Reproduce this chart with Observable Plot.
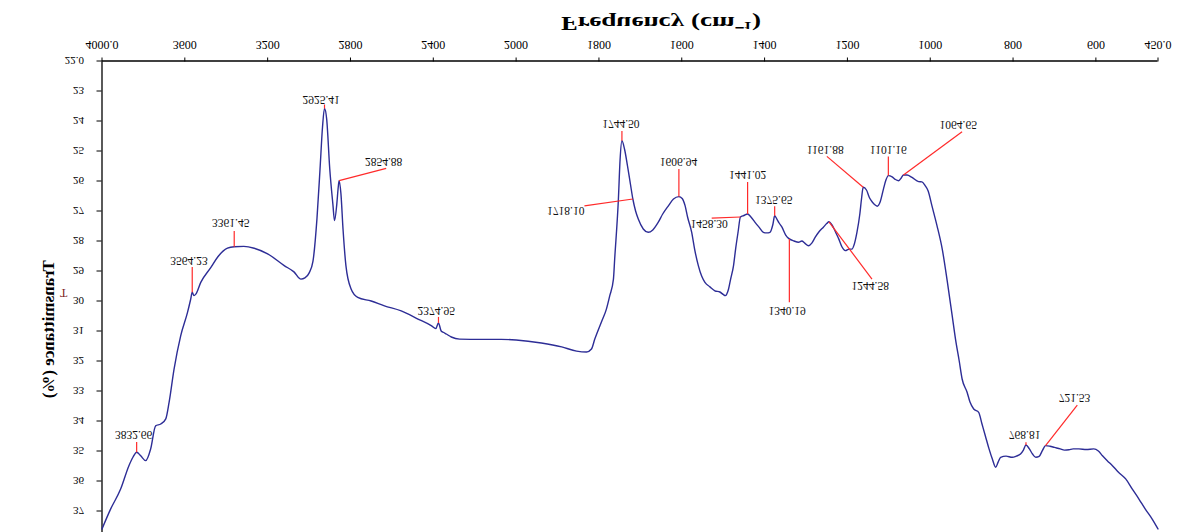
<!DOCTYPE html>
<html>
<head>
<meta charset="utf-8">
<script src="https://cdn.jsdelivr.net/npm/d3@7"></script>
<script src="https://cdn.jsdelivr.net/npm/@observablehq/plot@0.6"></script>
<style>
  html, body { margin: 0; padding: 0; background: #fff; }
  /* the spectrum sheet is printed mirrored top-to-bottom */
  #chart svg { display: block; transform: scaleY(-1); }
</style>
</head>
<body>
<div id="chart"></div>
<script>
// FTIR spectrum: wavenumber (cm⁻¹) and transmittance (%)
const wavenumber = [
  4000, 3958, 3910, 3870, 3850, 3832.66, 3813, 3789, 3765, 3741, 3716, 3692, 3676, 3652, 3620, 3587, 3572,
  3564.23, 3556, 3547, 3523, 3474, 3442, 3394, 3361.45, 3315, 3265, 3200, 3120, 3073, 3039, 3020, 3000,
  2981, 2962, 2947, 2935, 2925.41, 2915, 2900, 2885, 2877, 2866, 2859, 2854.88, 2846, 2836, 2822, 2797,
  2765, 2700, 2636, 2555, 2474, 2408, 2388, 2374.95, 2362, 2350, 2337, 2313, 2273, 2168, 2071, 2000,
  1939, 1890, 1854, 1830, 1818, 1810, 1794, 1782, 1774, 1765, 1762, 1753, 1749, 1744.5, 1738, 1731, 1724,
  1718.1, 1711.5, 1705, 1693, 1681, 1670, 1657, 1646, 1632, 1620, 1606.94, 1599, 1592, 1586, 1576, 1569,
  1560, 1552, 1544, 1532, 1520, 1508, 1500, 1495, 1487, 1482, 1475, 1470, 1464, 1458.3, 1450, 1441.02,
  1433, 1423, 1414, 1403, 1395, 1387, 1380, 1375.65, 1370, 1365, 1358, 1349, 1340.19, 1329, 1318, 1310,
  1303, 1294, 1286, 1278, 1269, 1258, 1250, 1244.58, 1238, 1232, 1227, 1221, 1213, 1205, 1196, 1189,
  1184, 1177, 1170, 1166, 1161.88, 1154, 1147, 1140, 1133, 1128, 1121, 1113, 1107, 1101.16, 1092, 1084,
  1076, 1070, 1064.65, 1056, 1044, 1028, 1020, 1012, 1005, 996, 984, 971, 959, 947, 939, 930, 923, 911,
  904, 895, 883, 875, 867, 858, 850, 842, 836, 830, 817, 802, 792, 782, 775, 768.81, 761, 753, 745, 737,
  729, 721.53, 711, 700, 686, 676, 665, 655, 641, 623, 605, 594, 584, 572, 560, 546, 528, 512, 496, 481,
  464, 450
];
const transmittance = [
  37.6, 36.93, 36.27, 35.49, 35.2, 35.04, 35.16, 35.32, 34.93, 34.16, 34.1, 33.93, 33.38, 32.27, 31.16, 30.38, 29.95,
  29.71, 29.82, 29.77, 29.38, 28.88, 28.54, 28.24, 28.19, 28.18, 28.24, 28.43, 28.82, 29.03, 29.27, 29.23, 29.07,
  28.67, 27.27, 25.6, 24.2, 23.58, 23.93, 25.6, 26.77, 27.32, 26.77, 26.2, 25.99, 26.43, 27.6, 28.82, 29.6,
  29.88, 30.0, 30.16, 30.33, 30.6, 30.83, 30.92, 30.73, 31.0, 31.05, 31.1, 31.2, 31.27, 31.28, 31.28, 31.3,
  31.4, 31.53, 31.67, 31.7, 31.6, 31.27, 30.7, 30.27, 29.83, 29.27, 28.6, 26.6, 25.3, 24.66, 24.95, 25.5, 26.1,
  26.6, 27.0, 27.27, 27.6, 27.71, 27.63, 27.38, 27.1, 26.82, 26.6, 26.52, 26.58, 26.82, 27.2, 27.71, 28.27,
  28.82, 29.17, 29.38, 29.53, 29.66, 29.7, 29.78, 29.82, 29.6, 29.27, 28.82, 28.27, 27.7, 27.2, 27.15, 27.1,
  27.2, 27.38, 27.53, 27.71, 27.73, 27.71, 27.45, 27.16, 27.28, 27.4, 27.54, 27.8, 27.93, 28.0, 28.04, 28.0,
  28.07, 28.16, 28.07, 27.88, 27.7, 27.54, 27.42, 27.36, 27.45, 27.6, 27.75, 27.93, 28.2, 28.32, 28.27, 28.27,
  28.13, 27.71, 27.1, 26.6, 26.21, 26.3, 26.55, 26.7, 26.8, 26.84, 26.7, 26.27, 25.97, 25.82, 25.86, 25.95,
  25.99, 25.9, 25.8, 25.8, 25.88, 26.02, 26.03, 26.16, 26.33, 26.82, 27.47, 28.27, 29.33, 30.49, 31.27, 32.0, 32.6, 33.04,
  33.37, 33.6, 33.71, 34.1, 34.49, 34.93, 35.27, 35.54, 35.37, 35.21, 35.17, 35.21, 35.17, 35.1, 34.97, 34.8, 34.92, 35.1, 35.21, 35.18,
  34.98, 34.82, 34.84, 34.88, 34.93, 34.97, 34.96, 34.93, 34.93, 34.95, 34.93, 35.0, 35.16, 35.33, 35.49, 35.7, 35.93, 36.27, 36.6, 36.93,
  37.27, 37.6
];

// Labelled band positions (cm⁻¹)
const peakWn = [3832.66, 3564.23, 3361.45, 2925.41, 2854.88, 2374.95, 1744.50, 1718.10, 1606.94, 1458.30,
                1441.02, 1375.65, 1340.19, 1244.58, 1161.88, 1101.16, 1064.65, 768.81, 721.53];
// Far end of each leader line, in (cm⁻¹, %T)
const leaderEndWn = [3832.66, 3564.23, 3361.45, 2925.41, 2627.6, 2374.95, 1744.5, 1835, 1606.94, 1527.7,
                     1441.02, 1375.65, 1340.19, 1140.7, 1249.6, 1101.16, 923.1, 768.81, 644.9];
const leaderEndT = [34.70, 28.87, 27.67, 23.45, 25.58, 30.53, 24.33, 26.83, 25.6, 27.24,
                    26.03, 26.84, 30.04, 29.27, 25.18, 25.18, 24.36, 34.71, 33.47];
// Where each band label sits, in (cm⁻¹, %T)
const labelWn = [3847, 3580, 3378, 2942, 2640, 2386, 1747, 1880, 1608, 1534,
                 1441, 1378, 1345.6, 1144.8, 1253.7, 1101.3, 932.3, 772, 651.7];
const labelT = [34.45, 28.66, 27.4, 23.28, 25.35, 30.32, 24.1, 27.0, 25.36, 27.43,
                25.78, 26.61, 30.31, 29.49, 24.94, 24.94, 24.12, 34.45, 33.23];

// Axis ticks
const xTickWn = [4000, 3600, 3200, 2800, 2400, 2000, 1800, 1600, 1400, 1200, 1000, 800, 600, 450];
const xTickLabels = ["4000.0", "3600", "3200", "2800", "2400", "2000", "1800", "1600", "1400", "1200", "1000", "800", "600", "450.0"];
const yTickValues = [22, 23, 24, 25, 26, 27, 28, 29, 30, 31, 32, 33, 34, 35, 36, 37];
const yTickLabels = ["22.0", "23", "24", "25", "26", "27", "28", "29", "30", "31", "32", "33", "34", "35", "36", "37"];

// Scale change at 2000 cm⁻¹: the high-wavenumber half is compressed two-fold.
const pos = w => (w >= 2000 ? (4000 - w) / 2 : 1000 + (2000 - w));

const spectrum = wavenumber.map((w, i) => ({w, t: transmittance[i]}));

function tAt(w) {
  for (let i = 1; i < wavenumber.length; i++) {
    if (w >= wavenumber[i]) {
      const w0 = wavenumber[i - 1], w1 = wavenumber[i];
      const f = (w0 - w) / (w0 - w1);
      return transmittance[i - 1] + f * (transmittance[i] - transmittance[i - 1]);
    }
  }
  return transmittance[transmittance.length - 1];
}

const peaks = peakWn.map((w, i) => ({
  w, t: tAt(w),
  ew: leaderEndWn[i], et: leaderEndT[i],
  lw: labelWn[i], lt: labelT[i],
  text: w.toFixed(2)
}));

const xLabelAt = new Map(xTickWn.map((w, i) => [pos(w), xTickLabels[i]]));
const yLabelAt = new Map(yTickValues.map((v, i) => [v, yTickLabels[i]]));

const serif = "'Liberation Serif', 'Times New Roman', Times, serif";

const chart = Plot.plot({
  width: 1177,
  height: 532,
  marginLeft: 101.5,
  marginRight: 19.5,
  marginTop: 0,
  marginBottom: 61.5,
  style: {fontFamily: serif, fontSize: "12px", color: "#000", background: "#fff"},
  x: {domain: [0, pos(450)], axis: null},
  y: {domain: [22, 37.683], axis: null},
  marks: [
    Plot.axisX({
      ticks: xTickWn.map(pos),
      tickFormat: u => xLabelAt.get(u),
      tickSize: 4, tickPadding: 7, fontSize: 12, label: null, stroke: "#000"
    }),
    Plot.axisY({
      ticks: yTickValues,
      tickFormat: v => yLabelAt.get(v),
      tickSize: 5, tickPadding: 13, fontSize: 11, label: null, stroke: "#000"
    }),
    Plot.ruleY([22], {stroke: "#000", strokeWidth: 1.3}),
    Plot.ruleX([0], {x: () => 0, stroke: "#000", strokeWidth: 1.3}),
    Plot.line(spectrum, {x: d => pos(d.w), y: "t", curve: "monotone-x", stroke: "#2d2d96", strokeWidth: 1.4}),
    Plot.link(peaks, {
      x1: d => pos(d.w), y1: "t", x2: d => pos(d.ew), y2: "et",
      stroke: "#ff2a2a", strokeWidth: 1.2
    }),
    Plot.text(peaks, {x: d => pos(d.lw), y: "lt", text: "text", fontSize: 11.5, fill: "#111"}),
    Plot.text(["Frequency (cm⁻¹)"], {
      frameAnchor: "bottom", dx: 31, dy: 44, fontSize: 18, fontWeight: "bold", fill: "#000"
    }),
    Plot.text(["Transmittance (%)"], {
      frameAnchor: "left", textAnchor: "middle", dx: -53, dy: -33, rotate: -90,
      fontSize: 17, fontWeight: "bold", fill: "#000"
    }),
    Plot.text(["T"], {frameAnchor: "left", dx: -42, dy: 3.75, fontSize: 12, fill: "#7b1c1c"})
  ]
});

document.getElementById("chart").appendChild(chart);

// widen the axis title to its printed length
d3.select(chart).selectAll("text")
  .filter(function () { return this.textContent.startsWith("Frequency"); })
  .attr("textLength", 200)
  .attr("lengthAdjust", "spacingAndGlyphs");
</script>
</body>
</html>
